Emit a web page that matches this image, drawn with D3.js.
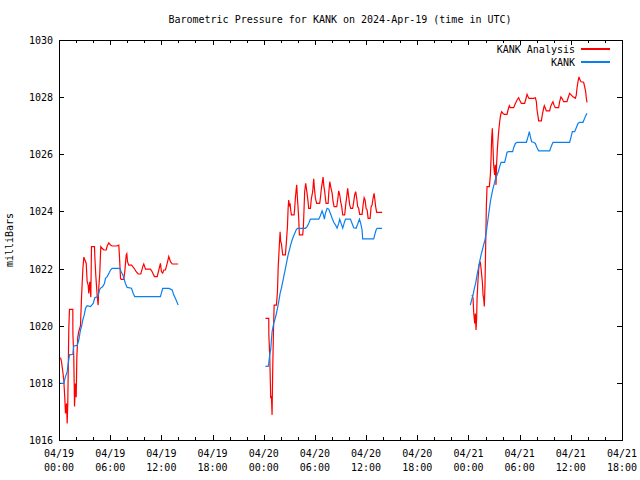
<!DOCTYPE html>
<html>
<head>
<meta charset="utf-8">
<script src="https://cdn.jsdelivr.net/npm/d3@7"></script>
<style>
  html, body { margin: 0; padding: 0; background: #fff; }
  svg { display: block; }
  text { font-family: "DejaVu Sans Mono", "Liberation Mono", monospace; font-size: 10px; fill: #000; }
</style>
</head>
<body>
<svg id="chart" width="640" height="480"></svg>
<script>
// ---------------- DATA ----------------
const chartTitle = "Barometric Pressure for KANK on 2024-Apr-19 (time in UTC)";
const yAxisLabel = "milliBars";
const seriesNames = ["KANK Analysis", "KANK"];
const seriesColors = ["#ff0000", "#0a80f0"];

// hours since 04/19 00:00 UTC
const xTickHours = [0, 6, 12, 18, 24, 30, 36, 42, 48, 54, 60, 66];
const xTickDates = ["04/19", "04/19", "04/19", "04/19", "04/20", "04/20", "04/20", "04/20", "04/21", "04/21", "04/21", "04/21"];
const xTickTimes = ["00:00", "06:00", "12:00", "18:00", "00:00", "06:00", "12:00", "18:00", "00:00", "06:00", "12:00", "18:00"];
const yTickValues = [1016, 1018, 1020, 1022, 1024, 1026, 1028, 1030];

// [hour, millibars]
const analysisDay1 = [
  [0.18,1018.88],[0.29,1018.74],[0.45,1018.39],[0.56,1018.10],[0.68,1017.46],[0.76,1016.93],[0.88,1017.28],
  [0.96,1016.58],[1.03,1017.28],[1.15,1019.90],[1.23,1020.57],[1.62,1020.57],[1.63,1019.73],[1.73,1018.92],
  [1.82,1017.17],[1.93,1017.98],[2.02,1017.50],[2.09,1018.90],[2.20,1019.60],[2.32,1019.80],[2.52,1020.00],
  [2.64,1021.00],[2.79,1021.95],[2.91,1022.40],[3.02,1022.32],[3.19,1022.18],[3.30,1021.54],[3.42,1021.42],
  [3.49,1021.13],[3.61,1021.54],[3.73,1021.00],[3.81,1022.77],[4.16,1022.77],[4.20,1022.42],[4.31,1021.78],
  [4.48,1021.02],[4.59,1020.72],[4.66,1021.31],[4.78,1021.84],[4.90,1022.77],[5.06,1022.71],[5.25,1022.65],
  [5.53,1022.65],[5.65,1022.79],[5.84,1022.90],[6.04,1022.82],[6.23,1022.79],[6.74,1022.79],[7.01,1022.82],
  [7.09,1022.42],[7.21,1021.66],[7.29,1021.62],[7.59,1021.62],[7.71,1021.89],[7.88,1022.48],[7.95,1022.52],
  [8.03,1022.24],[8.18,1022.12],[8.50,1022.12],[8.81,1022.01],[9.05,1021.89],[9.28,1021.81],[9.59,1021.81],
  [9.82,1022.07],[9.94,1022.16],[10.14,1021.98],[10.72,1021.98],[10.92,1021.89],[11.19,1021.72],[11.51,1021.72],
  [11.70,1021.95],[11.89,1022.18],[12.01,1021.89],[12.16,1021.84],[12.28,1021.95],[12.48,1021.95],[12.68,1022.18],
  [12.87,1022.42],[13.07,1022.24],[13.27,1022.16],[13.97,1022.16]
];
const analysisDay2 = [
  [24.20,1020.26],[24.59,1020.26],[24.60,1019.68],[24.70,1018.98],[24.82,1017.46],[24.90,1017.55],[24.98,1016.88],
  [25.05,1018.39],[25.14,1019.79],[25.22,1020.72],[25.49,1020.72],[25.61,1021.19],[25.69,1022.00],[25.84,1022.88],
  [25.92,1023.29],[25.99,1022.94],[26.07,1022.88],[26.16,1022.65],[26.23,1022.48],[26.54,1022.48],[26.66,1022.94],
  [26.78,1023.47],[26.86,1024.11],[26.93,1024.40],[27.01,1024.22],[27.09,1024.28],[27.16,1024.05],[27.25,1023.88],
  [27.56,1023.88],[27.63,1024.11],[27.71,1024.46],[27.80,1024.75],[27.87,1024.93],[27.95,1024.46],[28.03,1024.11],
  [28.10,1023.76],[28.18,1023.18],[28.57,1023.18],[28.65,1023.47],[28.73,1024.11],[28.80,1024.69],[28.92,1024.98],
  [29.00,1024.81],[29.08,1024.63],[29.20,1024.34],[29.27,1024.11],[29.47,1024.11],[29.59,1024.46],[29.74,1024.69],
  [29.86,1025.14],[29.94,1024.81],[30.06,1024.46],[30.21,1024.28],[30.56,1024.28],[30.64,1024.46],[30.76,1024.81],
  [30.88,1025.04],[30.96,1025.20],[31.03,1024.93],[31.15,1024.69],[31.23,1024.46],[31.31,1024.28],[31.55,1024.28],
  [31.62,1024.63],[31.74,1025.04],[31.85,1024.87],[32.02,1024.63],[32.13,1024.34],[32.25,1024.17],[32.56,1024.17],
  [32.67,1024.40],[32.79,1024.72],[32.91,1024.58],[33.02,1024.34],[33.14,1024.17],[33.26,1023.88],[33.49,1023.88],
  [33.61,1024.23],[33.73,1024.52],[33.84,1024.81],[33.96,1024.52],[34.08,1024.22],[34.20,1024.11],[34.43,1024.11],
  [34.55,1024.34],[34.66,1024.58],[34.78,1024.69],[34.90,1024.46],[35.01,1024.17],[35.13,1024.11],[35.25,1023.90],
  [35.53,1023.90],[35.65,1024.23],[35.77,1024.48],[35.88,1024.40],[36.00,1024.11],[36.12,1024.05],[36.24,1023.76],
  [36.47,1023.76],[36.59,1024.17],[36.70,1024.22],[36.82,1024.46],[36.94,1024.63],[37.01,1024.46],[37.12,1024.17],
  [37.24,1023.97],[37.88,1023.97]
];
const analysisDay3 = [
  [48.42,1021.08],[48.54,1020.96],[48.61,1020.49],[48.73,1020.08],[48.81,1020.43],[48.89,1019.85],[48.96,1020.26],
  [49.01,1020.96],[49.13,1021.66],[49.24,1022.13],[49.39,1022.24],[49.51,1021.90],[49.63,1021.54],[49.71,1021.08],
  [49.78,1020.96],[49.86,1020.67],[49.94,1021.43],[50.02,1022.83],[50.10,1024.22],[50.18,1024.87],[50.45,1024.87],
  [50.57,1025.28],[50.65,1025.86],[50.72,1026.56],[50.80,1026.91],[50.88,1026.21],[50.95,1025.63],[51.07,1025.28],
  [51.15,1025.63],[51.23,1024.93],[51.31,1025.74],[51.42,1026.33],[51.54,1026.79],[51.66,1027.14],[51.77,1027.38],
  [51.89,1027.49],[52.05,1027.43],[52.21,1027.40],[52.52,1027.40],[52.64,1027.55],[52.79,1027.70],[52.91,1027.63],
  [53.30,1027.63],[53.50,1027.78],[53.70,1027.90],[53.88,1027.98],[54.00,1027.90],[54.20,1027.78],[54.59,1027.78],
  [54.70,1027.90],[54.87,1028.10],[54.98,1028.02],[55.10,1027.96],[55.64,1027.96],[55.84,1027.98],[55.96,1027.84],
  [56.04,1027.55],[56.16,1027.32],[56.23,1027.17],[56.54,1027.17],[56.66,1027.38],[56.81,1027.61],[56.89,1027.70],
  [57.01,1027.61],[57.13,1027.52],[57.52,1027.52],[57.63,1027.67],[57.79,1027.78],[57.91,1027.84],[58.03,1027.72],
  [58.18,1027.63],[58.57,1027.63],[58.69,1027.84],[58.84,1028.01],[58.96,1027.96],[59.16,1027.84],[59.55,1027.84],
  [59.67,1027.96],[59.86,1028.13],[60.06,1028.07],[60.26,1028.01],[60.53,1027.96],[60.64,1028.07],[60.73,1028.33],
  [60.84,1028.54],[60.96,1028.71],[61.03,1028.63],[61.20,1028.54],[61.50,1028.52],[61.62,1028.37],[61.74,1028.19],
  [61.82,1027.96],[61.90,1027.82]
];
const kankDay1 = [
  [0.18,1017.98],[0.56,1017.98],[0.76,1018.22],[0.96,1018.39],[1.08,1018.68],[1.23,1018.98],[1.62,1019.00],
  [1.73,1019.29],[2.13,1019.31],[2.32,1019.50],[2.52,1019.85],[2.64,1019.97],[2.79,1020.20],[2.95,1020.37],
  [3.11,1020.61],[3.30,1020.70],[3.69,1020.67],[4.01,1020.78],[4.20,1020.98],[4.55,1021.02],[4.75,1021.25],
  [4.86,1021.31],[5.13,1021.37],[5.33,1021.48],[5.45,1021.66],[5.65,1021.72],[5.84,1021.83],[6.04,1021.95],
  [6.23,1022.01],[7.13,1022.01],[7.29,1021.89],[7.48,1021.78],[7.64,1021.62],[7.79,1021.48],[7.99,1021.34],
  [8.50,1021.31],[8.70,1021.13],[8.88,1021.02],[11.89,1021.02],[12.16,1021.31],[12.87,1021.31],[13.07,1021.28],
  [13.27,1021.25],[13.45,1021.08],[13.73,1020.90],[13.97,1020.72]
];
const kankDay2 = [
  [24.20,1018.58],[24.52,1018.58],[24.59,1018.68],[24.70,1018.98],[24.82,1019.16],[24.90,1019.50],[24.98,1019.79],
  [25.05,1019.90],[25.17,1020.08],[25.29,1020.20],[25.45,1020.38],[25.61,1020.61],[25.76,1020.84],[25.92,1021.13],
  [26.07,1021.31],[26.23,1021.54],[26.39,1021.78],[26.54,1022.00],[26.70,1022.24],[26.86,1022.48],[27.01,1022.65],
  [27.16,1022.83],[27.33,1023.00],[27.48,1023.12],[27.63,1023.23],[27.80,1023.35],[27.95,1023.41],[28.89,1023.41],
  [29.08,1023.47],[29.27,1023.58],[29.47,1023.73],[30.45,1023.73],[30.64,1023.85],[30.84,1024.02],[31.00,1023.88],
  [31.11,1023.73],[31.23,1023.93],[31.43,1024.11],[31.62,1024.08],[31.82,1023.93],[32.02,1023.76],[32.21,1023.62],
  [32.40,1023.53],[32.60,1023.41],[32.79,1023.58],[32.91,1023.73],[33.07,1023.58],[33.26,1023.41],[33.42,1023.58],
  [33.58,1023.73],[34.16,1023.73],[34.36,1023.58],[34.55,1023.43],[34.83,1023.41],[35.01,1023.55],[35.22,1023.73],
  [35.37,1023.58],[35.53,1023.35],[35.60,1023.04],[36.89,1023.04],[37.01,1023.18],[37.17,1023.35],[37.29,1023.41],
  [37.88,1023.41]
];
const kankDay3 = [
  [48.22,1020.72],[48.42,1020.96],[48.54,1021.08],[48.69,1021.31],[48.84,1021.48],[49.01,1021.78],[49.16,1022.00],
  [49.31,1022.24],[49.48,1022.48],[49.63,1022.65],[49.78,1022.83],[49.94,1023.00],[50.10,1023.29],[50.25,1023.64],
  [50.41,1023.99],[50.57,1024.34],[50.72,1024.58],[50.88,1024.81],[51.04,1024.98],[51.19,1025.16],[51.35,1025.27],
  [51.50,1025.39],[51.66,1025.57],[51.82,1025.72],[52.24,1025.72],[52.40,1025.90],[52.52,1026.07],[52.71,1026.09],
  [53.18,1026.09],[53.30,1026.23],[53.50,1026.38],[53.70,1026.42],[54.79,1026.42],[54.98,1026.61],[55.14,1026.79],
  [55.26,1026.61],[55.41,1026.44],[55.64,1026.42],[55.84,1026.38],[56.04,1026.23],[56.23,1026.12],[57.52,1026.12],
  [57.71,1026.28],[57.91,1026.42],[59.86,1026.42],[60.03,1026.61],[60.18,1026.79],[60.45,1026.79],[60.64,1026.93],
  [60.84,1027.08],[61.03,1027.12],[61.43,1027.12],[61.58,1027.23],[61.74,1027.35],[61.90,1027.43]
];

// ---------------- CHART ----------------
const svg = d3.select("#chart");
const plotLeft = 59, plotRight = 622, plotTop = 40, plotBottom = 440;

const x = d3.scaleLinear().domain([0, 66]).range([plotLeft, plotRight]);
const y = d3.scaleLinear().domain([1016, 1030]).range([plotBottom, plotTop]);

// title
svg.append("text").attr("x", 340).attr("y", 23).attr("text-anchor", "middle").text(chartTitle);

// y label
svg.append("text")
  .attr("transform", "translate(13,240) rotate(-90)")
  .attr("text-anchor", "middle")
  .text(yAxisLabel);

const minorHours = d3.range(0, 67, 2);

function styleAxis(g) {
  g.select(".domain").remove();
  g.selectAll("line").attr("stroke", "#000").attr("shape-rendering", "crispEdges");
  g.selectAll("text").remove();
}

// bottom minor + major ticks
svg.append("g").attr("transform", `translate(0,${plotBottom})`)
  .call(d3.axisBottom(x).tickValues(minorHours).tickSize(-3).tickSizeOuter(0)).call(styleAxis);
svg.append("g").attr("transform", `translate(0,${plotBottom})`)
  .call(d3.axisBottom(x).tickValues(xTickHours).tickSize(-5).tickSizeOuter(0)).call(styleAxis);
// top mirror
svg.append("g").attr("transform", `translate(0,${plotTop})`)
  .call(d3.axisTop(x).tickValues(minorHours).tickSize(-3).tickSizeOuter(0)).call(styleAxis);
svg.append("g").attr("transform", `translate(0,${plotTop})`)
  .call(d3.axisTop(x).tickValues(xTickHours).tickSize(-5).tickSizeOuter(0)).call(styleAxis);
// left / right
svg.append("g").attr("transform", `translate(${plotLeft},0)`)
  .call(d3.axisLeft(y).tickValues(yTickValues).tickSize(-5).tickSizeOuter(0)).call(styleAxis);
svg.append("g").attr("transform", `translate(${plotRight},0)`)
  .call(d3.axisRight(y).tickValues(yTickValues).tickSize(-5).tickSizeOuter(0)).call(styleAxis);

// y tick labels
svg.append("g").selectAll("text").data(yTickValues).join("text")
  .attr("x", plotLeft - 6).attr("y", d => y(d) + 4).attr("text-anchor", "end").text(d => d);

// x tick labels
const xl = svg.append("g").selectAll("text").data(xTickHours).join("text")
  .attr("text-anchor", "middle");
xl.append("tspan").attr("x", d => x(d)).attr("y", 457).text((d, i) => xTickDates[i]);
xl.append("tspan").attr("x", d => x(d)).attr("y", 471).text((d, i) => xTickTimes[i]);

// frame
svg.append("rect").attr("x", plotLeft).attr("y", plotTop).attr("width", plotRight - plotLeft).attr("height", plotBottom - plotTop)
  .attr("fill", "none").attr("stroke", "#000").attr("shape-rendering", "crispEdges");

// series
const line = d3.line().x(d => x(d[0])).y(d => y(d[1]));
const series = [
  { name: seriesNames[0], color: seriesColors[0], segs: [analysisDay1, analysisDay2, analysisDay3] },
  { name: seriesNames[1], color: seriesColors[1], segs: [kankDay1, kankDay2, kankDay3] }
];
series.forEach(s => {
  svg.append("g").selectAll("path").data(s.segs).join("path")
    .attr("d", line).attr("fill", "none").attr("stroke", s.color).attr("stroke-width", 1.2);
});

// legend
series.forEach((s, i) => {
  const ly = 49 + i * 13;
  svg.append("text").attr("x", 575).attr("y", ly + 4).attr("text-anchor", "end").text(s.name);
  svg.append("line").attr("x1", 581).attr("x2", 610).attr("y1", ly).attr("y2", ly)
    .attr("stroke", s.color).attr("stroke-width", 1.2).attr("shape-rendering", "crispEdges");
});
</script>
</body>
</html>
